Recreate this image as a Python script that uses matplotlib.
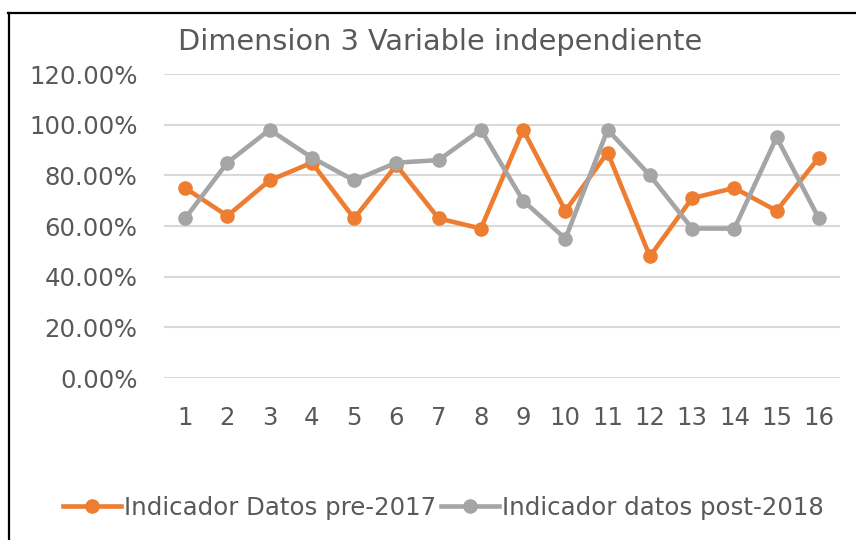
import matplotlib
matplotlib.use("Agg")
import matplotlib.pyplot as plt
from matplotlib.lines import Line2D
from matplotlib.ticker import FuncFormatter

# data
categories = list(range(1, 17))
pre_2017 = [75, 64, 78, 85, 63, 84, 63, 59, 98, 66, 89, 48, 71, 75, 66, 87]
post_2018 = [63, 85, 98, 87, 78, 85, 86, 98, 70, 55, 98, 80, 59, 59, 95, 63]
y_ticks = [0, 20, 40, 60, 80, 100, 120]

orange = '#ED7D31'
gray = '#A5A5A5'
text_col = '#595959'

plt.rcParams['font.family'] = 'DejaVu Sans'

fig = plt.figure(figsize=(8.56, 5.4), dpi=100)
ax = fig.add_axes([164 / 856, 1 - 378 / 540, (840 - 164) / 856, (378 - 74) / 540])

ax.plot(categories, pre_2017, color=orange, lw=3.3, marker='o', ms=9.5,
        label='Indicador Datos pre-2017', solid_joinstyle='round')
ax.plot(categories, post_2018, color=gray, lw=3.3, marker='o', ms=9.5,
        label='Indicador datos post-2018', solid_joinstyle='round')

ax.set_xlim(0.5, 16.5)
ax.set_ylim(0, 120)
ax.set_yticks(y_ticks)
ax.yaxis.set_major_formatter(FuncFormatter(lambda v, p: '%.2f%%' % v))
ax.set_xticks(categories)
ax.grid(axis='y', color='#D9D9D9', lw=1.5)
ax.set_axisbelow(True)
for s in ax.spines.values():
    s.set_visible(False)
ax.tick_params(axis='both', length=0, labelsize=17.6, colors=text_col)
ax.tick_params(axis='y', pad=19)
ax.tick_params(axis='x', pad=20)

fig.text(440 / 856, 1 - 42 / 540, 'Dimension 3 Variable independiente',
         ha='center', va='center', fontsize=20.7, color=text_col)

leg = fig.legend(loc='center', bbox_to_anchor=(443 / 856, 1 - 508 / 540), ncol=2,
                 frameon=False, fontsize=17.6, handlelength=2.4, handletextpad=0.1,
                 columnspacing=0.2, labelcolor=text_col)

# outer chart border (left and top edges visible)
fig.add_artist(Line2D([9 / 856, 9 / 856], [0, 1 - 13 / 540], color='black', lw=1.6,
                      transform=fig.transFigure))
fig.add_artist(Line2D([8 / 856, 1], [1 - 13 / 540, 1 - 13 / 540], color='black', lw=1.6,
                      transform=fig.transFigure))

fig.savefig('out.png', dpi=100)
